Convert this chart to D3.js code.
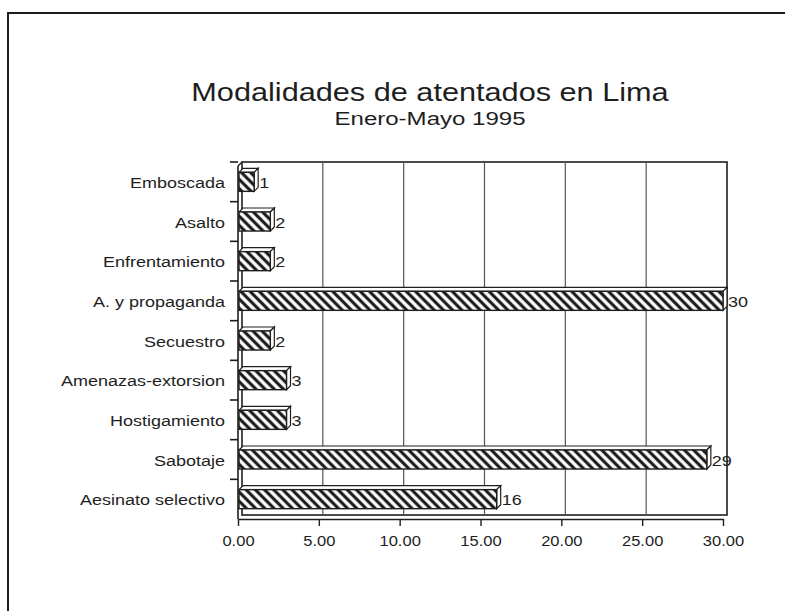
<!DOCTYPE html>
<html>
<head>
<meta charset="utf-8">
<script src="https://cdn.jsdelivr.net/npm/d3@7/dist/d3.min.js"></script>
<style>
  html, body { margin: 0; padding: 0; background: #fff; }
  svg { display: block; font-family: "Liberation Sans", Arial, sans-serif; }
</style>
</head>
<body>
<div id="chart"></div>
<script>
const categories = ["Emboscada", "Asalto", "Enfrentamiento", "A. y propaganda", "Secuestro",
                    "Amenazas-extorsion", "Hostigamiento", "Sabotaje", "Aesinato selectivo"];
const values = [1, 2, 2, 30, 2, 3, 3, 29, 16];
const xTicks = [0, 5, 10, 15, 20, 25, 30];

const W = 785, H = 611;
const plot = {left: 238, right: 727, top: 162, bottom: 519};
const depth = 4;
const ink = "#1e1e1e";

const svg = d3.select("#chart").append("svg")
  .attr("width", W).attr("height", H);

// hatch pattern (backslash diagonals)
const pat = svg.append("defs").append("pattern")
  .attr("id", "hatch")
  .attr("patternUnits", "userSpaceOnUse")
  .attr("width", 6.5).attr("height", 6.5)
  .attr("patternTransform", "rotate(-45)");
pat.append("rect").attr("width", 6.5).attr("height", 6.5).attr("fill", "#fff");
pat.append("line")
  .attr("x1", 3.25).attr("y1", 0).attr("x2", 3.25).attr("y2", 6.5)
  .attr("stroke", ink).attr("stroke-width", 3.2);

// outer page frame
svg.append("path")
  .attr("d", `M8,${H} L8,13 L${W},13`)
  .attr("fill", "none").attr("stroke", ink).attr("stroke-width", 2);

// titles (the printed type is wider than Arial, so stretch it a little)
svg.append("text")
  .attr("transform", "translate(430,101) scale(1.18,1)")
  .attr("text-anchor", "middle")
  .attr("font-size", 26).attr("fill", ink)
  .text("Modalidades de atentados en Lima");
svg.append("text")
  .attr("transform", "translate(430,125) scale(1.3,1)")
  .attr("text-anchor", "middle")
  .attr("font-size", 18.5).attr("fill", ink)
  .text("Enero-Mayo 1995");

const x = d3.scaleLinear().domain([0, 30]).range([plot.left, plot.right - depth]);
const y = d3.scaleBand().domain(categories).range([plot.top, plot.bottom]).paddingInner(0.52).paddingOuter(0.26);
const yb = d3.scaleBand().domain(categories).range([plot.top, plot.bottom]);

const g = svg.append("g");

// back wall frame
g.append("rect")
  .attr("x", plot.left + depth).attr("y", plot.top)
  .attr("width", plot.right - plot.left - depth)
  .attr("height", plot.bottom - depth - plot.top)
  .attr("fill", "none").attr("stroke", ink).attr("stroke-width", 1.6);

// grid lines
g.selectAll(".grid")
  .data(xTicks.slice(1, -1))
  .enter().append("line")
  .attr("x1", d => x(d) + depth).attr("x2", d => x(d) + depth)
  .attr("y1", plot.top).attr("y2", plot.bottom - depth)
  .attr("stroke", "#555").attr("stroke-width", 1.2);

// left axis line + wall edge
g.append("line")
  .attr("x1", plot.left).attr("x2", plot.left)
  .attr("y1", plot.top + depth).attr("y2", plot.bottom)
  .attr("stroke", ink).attr("stroke-width", 1.6);
g.append("line")
  .attr("x1", plot.left).attr("x2", plot.left + depth)
  .attr("y1", plot.top + depth).attr("y2", plot.top)
  .attr("stroke", ink).attr("stroke-width", 1.2);

// category ticks at band boundaries
g.selectAll(".ytick")
  .data(categories)
  .enter().append("line")
  .attr("x1", plot.left - 8).attr("x2", plot.left)
  .attr("y1", d => yb(d)).attr("y2", d => yb(d))
  .attr("stroke", ink).attr("stroke-width", 1.6);

// bars
const bars = g.selectAll(".bar")
  .data(categories.map((c, i) => ({c, v: values[i]})))
  .enter().append("g").attr("class", "bar");

bars.append("polygon")
  .attr("points", d => {
    const x0 = x(0) + 1, x1 = x(d.v), y0 = y(d.c);
    return [[x0, y0], [x0 + depth, y0 - depth], [x1 + depth, y0 - depth], [x1, y0]].join(" ");
  })
  .attr("fill", "#fff").attr("stroke", ink).attr("stroke-width", 1.2);
bars.append("polygon")
  .attr("points", d => {
    const x1 = x(d.v), y0 = y(d.c), y1 = y0 + y.bandwidth();
    return [[x1, y0], [x1 + depth, y0 - depth], [x1 + depth, y1 - depth], [x1, y1]].join(" ");
  })
  .attr("fill", "#fff").attr("stroke", ink).attr("stroke-width", 1.2);
bars.append("rect")
  .attr("x", x(0) + 1).attr("y", d => y(d.c))
  .attr("width", d => x(d.v) - x(0) - 1).attr("height", y.bandwidth())
  .attr("fill", "url(#hatch)").attr("stroke", ink).attr("stroke-width", 1.4);

bars.append("text")
  .attr("transform", d => `translate(${x(d.v) + depth + 1},${y(d.c) + y.bandwidth() / 2 + 6}) scale(1.2,1)`)
  .attr("font-size", 15).attr("fill", ink)
  .text(d => d.v);

// category labels
g.selectAll(".ylab")
  .data(categories)
  .enter().append("text")
  .attr("transform", d => `translate(225,${yb(d) + yb.bandwidth() / 2 + 6}) scale(1.2,1)`)
  .attr("text-anchor", "end")
  .attr("font-size", 15).attr("fill", ink)
  .text(d => d);

// x axis
const xAxis = d3.axisBottom(x)
  .tickValues(xTicks)
  .tickSize(7)
  .tickSizeOuter(0)
  .tickFormat(d3.format(".2f"));
const ax = g.append("g")
  .attr("transform", `translate(0,${plot.bottom})`)
  .call(xAxis);
ax.select(".domain").attr("stroke", ink).attr("stroke-width", 1.6);
ax.selectAll(".tick line").attr("stroke", ink).attr("stroke-width", 1.4);
ax.selectAll(".tick text")
  .attr("font-size", 14).attr("fill", ink)
  .attr("font-family", "'Liberation Sans', Arial, sans-serif")
  .attr("y", null).attr("dy", null)
  .attr("transform", "translate(0,27) scale(1.18,1)");
</script>
</body>
</html>
